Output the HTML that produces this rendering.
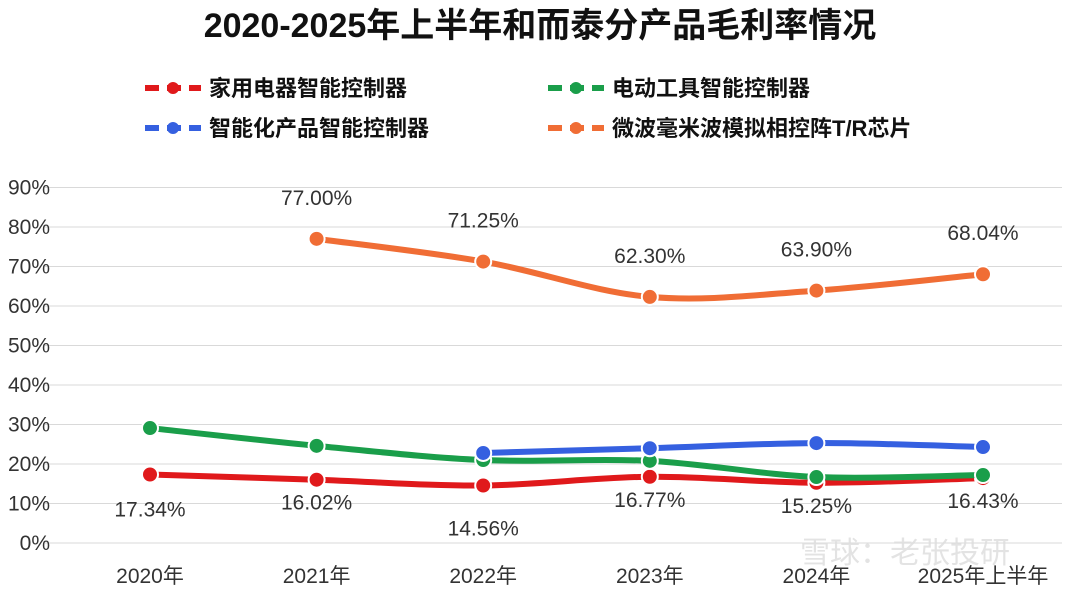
<!DOCTYPE html>
<html><head><meta charset="utf-8"><style>
body{margin:0;background:#fff;}
svg text{font-family:"Liberation Sans","Noto Sans CJK SC",sans-serif;}
</style></head><body>
<svg id="c" width="1080" height="586" viewBox="0 0 1080 586">
<text x="540" y="37" text-anchor="middle" font-size="34" font-weight="bold" fill="#111">2020-2025年上半年和而泰分产品毛利率情况</text>
<g id="legend"></g>
<g id="grid"></g><g id="lines"></g><g id="labels"></g>
<text x="800" y="563" font-size="30" fill="#ddd" opacity="0.8">雪球：老张投研</text>
</svg>
<script>
const categories=["2020年","2021年","2022年","2023年","2024年","2025年上半年"];
const yTicks=[0,10,20,30,40,50,60,70,80,90];
const redVals=[17.34,16.02,14.56,16.77,15.25,16.43];
const greenVals=[29.1,24.6,21.0,20.8,16.7,17.2];
const blueVals=[null,null,22.8,24.0,25.3,24.3];
const orangeVals=[null,77.00,71.25,62.30,63.90,68.04];
const NS="http://www.w3.org/2000/svg";
const x=i=>150+i*166.6;
const y=v=>543-v*3.95;
function el(t,a,p){const e=document.createElementNS(NS,t);for(const k in a)e.setAttribute(k,a[k]);p.appendChild(e);return e;}
const grid=document.getElementById('grid');
yTicks.forEach(t=>{
 const l=el('line',{x1:45,x2:1062,y1:y(t),y2:y(t),stroke:'#d9d9d9','stroke-width':1},grid);
 
 
 const tx=el('text',{x:50,y:y(t)+7,'text-anchor':'end','font-size':21,fill:'#333'},grid);
 tx.textContent=t+'%';
 
 
});
categories.forEach((c,i)=>{
 const tx=el('text',{x:x(i),y:583,'text-anchor':'middle','font-size':21,fill:'#333'},grid);
 tx.textContent=c;
 
 
});
function path(pts){let d='M'+pts[0][0]+','+pts[0][1];
 for(let i=0;i<pts.length-1;i++){const p0=pts[i-1]||pts[i],p1=pts[i],p2=pts[i+1],p3=pts[i+2]||p2;
 const c1=[p1[0]+(p2[0]-p0[0])/6,p1[1]+(p2[1]-p0[1])/6],c2=[p2[0]-(p3[0]-p1[0])/6,p2[1]-(p3[1]-p1[1])/6];
 d+=' C'+c1+' '+c2+' '+p2;}return d;}
const lines=document.getElementById('lines');
const series=[[redVals,'#e0191b','red'],[greenVals,'#1a9e4a','green'],[blueVals,'#3560e0','blue'],[orangeVals,'#f06d35','orange']];
series.forEach(([vals,col,nm])=>{
 const pts=[];vals.forEach((v,i)=>{if(v!==null)pts.push([x(i),y(v)]);});
 const p=el('path',{d:path(pts),fill:'none',stroke:col,'stroke-width':6,'stroke-linecap':'round'},lines);
 
 
 pts.forEach(q=>{const c=el('circle',{cx:q[0],cy:q[1],r:8,fill:col,stroke:'#fff','stroke-width':2},lines);
 
 });
});
const labels=document.getElementById('labels');
const redOff=[30,18,38,18,18,18];
redVals.forEach((v,i)=>{const t=el('text',{x:x(i),y:y(v)+redOff[i]+12,'text-anchor':'middle','font-size':21,fill:'#333'},labels);
 t.textContent=v.toFixed(2)+'%';
 
 });
orangeVals.forEach((v,i)=>{if(v===null)return;const t=el('text',{x:x(i),y:y(v)-34,'text-anchor':'middle','font-size':21,fill:'#333'},labels);
 t.textContent=v.toFixed(2)+'%';
 
 });
const leg=document.getElementById('legend');
[['家用电器智能控制器','#e0191b',145,88],['电动工具智能控制器','#1a9e4a',548,88],['智能化产品智能控制器','#3560e0',145,128],['微波毫米波模拟相控阵T/R芯片','#f06d35',548,128]].forEach(([n,c,lx,ly])=>{
 const g=el('g',{},leg);
 
 
 el('line',{x1:lx,x2:lx+56,y1:ly,y2:ly,stroke:c,'stroke-width':6,'stroke-dasharray':'14 8'},g);
 el('circle',{cx:lx+28,cy:ly,r:6,fill:c},g);
 const t=el('text',{x:lx+64,y:ly+8,'font-size':22,'font-weight':'bold',fill:'#111'},g);t.textContent=n;
});
</script>
</body></html>
